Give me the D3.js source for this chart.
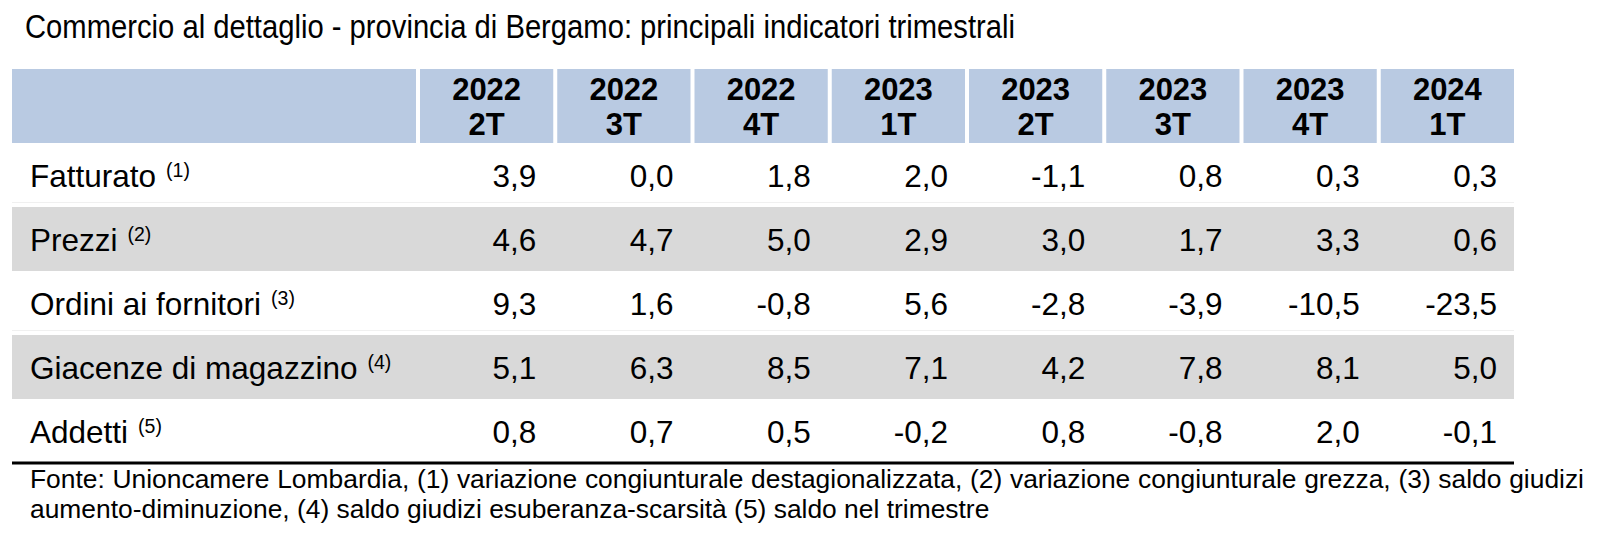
<!DOCTYPE html>
<html>
<head>
<meta charset="utf-8">
<script src="https://cdn.jsdelivr.net/npm/d3@7"></script>
<style>
  html, body { margin: 0; padding: 0; background: #ffffff; }
  svg { display: block; font-family: "Liberation Sans", Arial, Helvetica, sans-serif; }
</style>
</head>
<body>
<svg id="chart" width="1597" height="542"></svg>
<script>
// ---- data ----
const titleText = "Commercio al dettaglio - provincia di Bergamo: principali indicatori trimestrali";
const years = ["2022", "2022", "2022", "2023", "2023", "2023", "2023", "2024"];
const quarters = ["2T", "3T", "4T", "1T", "2T", "3T", "4T", "1T"];
const indicators = ["Fatturato", "Prezzi", "Ordini ai fornitori", "Giacenze di magazzino", "Addetti"];
const notes = ["(1)", "(2)", "(3)", "(4)", "(5)"];
const fatturato = [3.9, 0.0, 1.8, 2.0, -1.1, 0.8, 0.3, 0.3];
const prezzi = [4.6, 4.7, 5.0, 2.9, 3.0, 1.7, 3.3, 0.6];
const ordini = [9.3, 1.6, -0.8, 5.6, -2.8, -3.9, -10.5, -23.5];
const giacenze = [5.1, 6.3, 8.5, 7.1, 4.2, 7.8, 8.1, 5.0];
const addetti = [0.8, 0.7, 0.5, -0.2, 0.8, -0.8, 2.0, -0.1];
const footerLines = [
  "Fonte: Unioncamere Lombardia, (1) variazione congiunturale destagionalizzata, (2) variazione congiunturale grezza, (3) saldo giudizi",
  "aumento-diminuzione, (4) saldo giudizi esuberanza-scarsità (5) saldo nel trimestre"
];

const series = [fatturato, prezzi, ordini, giacenze, addetti];
const periods = years.map((y, i) => y + " " + quarters[i]);

// ---- layout ----
const svg = d3.select("#chart");
const tableLeft = 12, tableRight = 1514;
const headerTop = 69, headerBottom = 143;
const rowH = 64;

const x = d3.scaleBand().domain(periods).range([418, 1516]);
const y = d3.scaleBand().domain(indicators).range([headerBottom, headerBottom + rowH * indicators.length]);

const locale = d3.formatLocale({ decimal: ",", thousands: ".", grouping: [3], currency: ["€", ""], minus: "-" });
const fmt = locale.format(".1f");

// title
svg.append("text")
  .attr("x", 25).attr("y", 38)
  .attr("font-size", 33)
  .attr("fill", "#000")
  .attr("textLength", 990)
  .attr("lengthAdjust", "spacingAndGlyphs")
  .text(titleText);

// header
svg.append("rect")
  .attr("x", tableLeft).attr("y", headerTop)
  .attr("width", 416 - tableLeft).attr("height", headerBottom - headerTop)
  .attr("fill", "#b9cae2");

const hdr = svg.append("g").selectAll("g").data(periods).join("g");
hdr.append("rect")
  .attr("x", d => x(d) + 2).attr("y", headerTop)
  .attr("width", x.bandwidth() - 4).attr("height", headerBottom - headerTop)
  .attr("fill", "#b9cae2");
hdr.append("text")
  .attr("x", d => x(d) + x.bandwidth() / 2).attr("y", 100)
  .attr("text-anchor", "middle").attr("font-size", 31).attr("font-weight", "bold")
  .text((d, i) => years[i]);
hdr.append("text")
  .attr("x", d => x(d) + x.bandwidth() / 2).attr("y", 135)
  .attr("text-anchor", "middle").attr("font-size", 31).attr("font-weight", "bold")
  .text((d, i) => quarters[i]);

// rows
const rows = svg.append("g").selectAll("g").data(indicators).join("g");
rows.filter((d, i) => i % 2 === 1).append("rect")
  .attr("x", tableLeft).attr("y", d => y(d))
  .attr("width", tableRight - tableLeft).attr("height", y.bandwidth())
  .attr("fill", "#d9d9d9");
rows.filter((d, i) => i % 2 === 0 && i < indicators.length - 1).append("line")
  .attr("x1", tableLeft).attr("x2", tableRight)
  .attr("y1", d => y(d) + y.bandwidth() - 4.5).attr("y2", d => y(d) + y.bandwidth() - 4.5)
  .attr("stroke", "#f0f0f0").attr("stroke-width", 1);

const lbl = rows.append("text")
  .attr("x", 30).attr("y", d => y(d) + 44)
  .attr("font-size", 31.5).attr("fill", "#000");
lbl.append("tspan").text(d => d);
lbl.append("tspan").attr("dx", 10).attr("dy", -10).attr("font-size", 19.5).text((d, i) => notes[i]);

rows.each(function(d, ri) {
  d3.select(this).selectAll("text.val").data(series[ri]).join("text")
    .attr("class", "val")
    .attr("x", (v, ci) => x(periods[ci]) + x.bandwidth() - 19)
    .attr("y", y(d) + 44)
    .attr("text-anchor", "end").attr("font-size", 31.5).attr("fill", "#000")
    .text(v => fmt(v));
});

// bottom rule
svg.append("line")
  .attr("x1", tableLeft).attr("x2", tableRight)
  .attr("y1", 463).attr("y2", 463)
  .attr("stroke", "#000").attr("stroke-width", 3);

// footer
const f1 = svg.append("text")
  .attr("x", 30).attr("y", 488).attr("font-size", 26.4).attr("fill", "#000")
  .text(footerLines[0]);
const natural = f1.node().getComputedTextLength();
const nSpaces = footerLines[0].split(" ").length - 1;
const extra = (1584 - 30 - natural) / nSpaces;
f1.attr("word-spacing", Math.max(0, extra));
svg.append("text")
  .attr("x", 30).attr("y", 518).attr("font-size", 26.4).attr("fill", "#000")
  .text(footerLines[1]);
</script>
</body>
</html>
